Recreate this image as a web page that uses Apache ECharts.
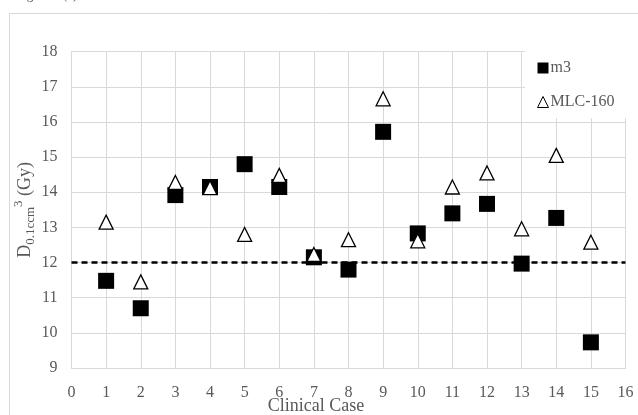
<!DOCTYPE html>
<html>
<head>
<meta charset="utf-8">
<script src="https://cdn.jsdelivr.net/npm/echarts@6/dist/echarts.min.js"></script>
<style>html,body{margin:0;padding:0;background:#fff}#c{width:638px;height:415px}</style>
</head>
<body>
<div id="c"></div>
<script>
const cases = [1,2,3,4,5,6,7,8,9,10,11,12,13,14,15];
const m3 = [11.48,10.7,13.92,14.15,14.8,14.15,12.15,11.8,15.72,12.83,13.4,13.67,11.97,13.27,9.73];
const mlc160 = [13.15,11.45,14.28,14.13,12.8,14.48,12.23,12.65,16.66,12.62,14.15,14.55,12.96,15.05,12.58];
const threshold = 12;
const xTicks = {min: 0, max: 16, interval: 1};
const yTicks = {min: 9, max: 18, interval: 1};

const serif = '"Liberation Serif", "Times New Roman", serif';
const txt = '#595959';
const grid = '#d9d9d9';

const chart = echarts.init(document.getElementById('c'));
chart.setOption({
  animation: false,
  backgroundColor: '#fff',
  grid: {left: 71.5, right: 12.5, top: 51.7, bottom: 47, containLabel: false, outerBoundsMode: 'none'},
  graphic: [
    {type: 'rect', shape: {x: 9.5, y: 13.5, width: 700, height: 500}, style: {fill: 'none', stroke: grid, lineWidth: 1}, z: 0},
    {type: 'text', left: 16, top: -11, style: {text: 'Figure 5 (a)', font: '13px ' + serif, fill: txt}}
  ],
  legend: {
    orient: 'vertical', left: 525, top: 47,
    padding: [13, 30, 8, 12],
    backgroundColor: '#fff',
    itemWidth: 11, itemHeight: 11, itemGap: 18,
    textStyle: {fontFamily: serif, fontSize: 16, color: txt, padding: [0,0,0,-3], lineHeight: 16},
    data: [
      {name: 'm3', icon: 'rect'},
      {name: 'MLC-160', icon: 'triangle', itemStyle: {color: '#fff', borderColor: '#000', borderWidth: 1}}
    ],
    z: 10
  },
  xAxis: {
    type: 'value', min: xTicks.min, max: xTicks.max, interval: xTicks.interval,
    name: 'Clinical Case', nameLocation: 'middle', nameGap: 29, nameMoveOverlap: false,
    nameTextStyle: {fontFamily: serif, fontSize: 18, color: txt, padding: [0, 65, 0, 0]},
    axisLine: {show: true, lineStyle: {color: grid, width: 1}},
    axisTick: {show: false},
    axisLabel: {fontFamily: serif, fontSize: 16, color: txt, margin: 17},
    splitLine: {show: true, lineStyle: {color: grid, width: 1}}
  },
  yAxis: {
    type: 'value', min: yTicks.min, max: yTicks.max, interval: yTicks.interval,
    name: '{d|D}{sub|0.1ccm}{sup|3}{d| (Gy)}', nameLocation: 'middle', nameGap: 34, nameMoveOverlap: false,
    nameTextStyle: {
      color: txt, fontFamily: serif,
      rich: {
        d: {fontFamily: serif, fontSize: 18, color: txt, lineHeight: 24, verticalAlign: 'middle'},
        sub: {fontFamily: serif, fontSize: 13, color: txt, lineHeight: 13, padding: [10, 0, 0, 0], verticalAlign: 'middle'},
        sup: {fontFamily: serif, fontSize: 13, color: txt, lineHeight: 13, padding: [0, 0, 13, 0], verticalAlign: 'middle'}
      }
    },
    axisLine: {show: true, lineStyle: {color: grid, width: 1}},
    axisTick: {show: false},
    axisLabel: {fontFamily: serif, fontSize: 16, color: txt, margin: 14},
    splitLine: {show: true, lineStyle: {color: grid, width: 1}}
  },
  series: [
    {
      name: 'threshold', type: 'line', z: 1, silent: true, symbol: 'none',
      data: [[xTicks.min, threshold], [xTicks.max, threshold]],
      lineStyle: {color: '#000', width: 2.5, type: [6, 4]}
    },
    {
      name: 'm3', type: 'scatter', z: 3, symbol: 'rect', symbolSize: 16,
      itemStyle: {color: '#000', opacity: 1},
      data: cases.map((c, i) => [c, m3[i]])
    },
    {
      name: 'MLC-160', type: 'scatter', z: 4, symbol: 'triangle', symbolSize: 14,
      itemStyle: {color: '#fff', borderColor: '#000', borderWidth: 1.3, opacity: 1},
      data: cases.map((c, i) => [c, mlc160[i]])
    }
  ]
});
</script>
</body>
</html>
